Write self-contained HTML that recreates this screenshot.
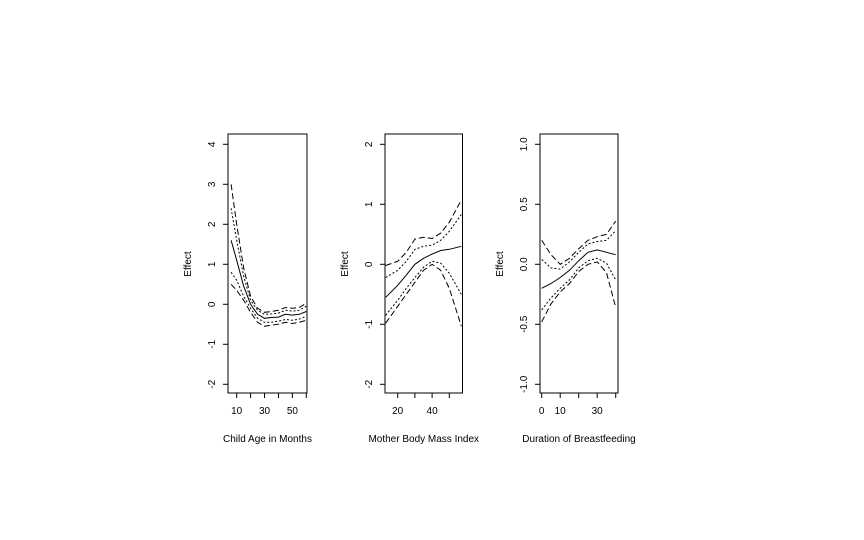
<!DOCTYPE html>
<html><head><meta charset="utf-8"><style>
body{margin:0;background:#fff}
svg{display:block;font-family:"Liberation Sans",Arial,sans-serif;font-size:10px}
</style></head><body>
<svg id="c" width="864" height="540" viewBox="0 0 864 540"></svg>
<script>
// Panel 1: Child Age in Months
const ageX=[6,10,15,20,25,30,35,40,45,50,55,60];
const ageMean=[1.6,1.1,0.45,0.0,-0.25,-0.35,-0.33,-0.32,-0.25,-0.27,-0.25,-0.18];
const ageUpDash=[3.0,2.0,0.9,0.2,-0.1,-0.2,-0.18,-0.15,-0.08,-0.1,-0.08,0.03];
const ageUpDot=[2.4,1.6,0.7,0.1,-0.15,-0.25,-0.24,-0.22,-0.15,-0.17,-0.15,-0.05];
const ageLoDot=[0.8,0.6,0.2,-0.1,-0.35,-0.45,-0.45,-0.42,-0.38,-0.4,-0.37,-0.3];
const ageLoDash=[0.5,0.35,0.1,-0.2,-0.45,-0.55,-0.52,-0.5,-0.45,-0.48,-0.45,-0.4];
const ageXTicks=[10,20,30,40,50,60];
const ageXLabels=["10","","30","","50",""];
const ageYTicks=[-2,-1,0,1,2,3,4];
// Panel 2: Mother BMI
const bmiX=[13,20,25,30,35,40,45,50,57];
const bmiMean=[-0.55,-0.35,-0.18,0.0,0.1,0.17,0.23,0.25,0.3];
const bmiUpDash=[-0.02,0.05,0.2,0.42,0.45,0.43,0.52,0.7,1.07];
const bmiUpDot=[-0.22,-0.1,0.05,0.25,0.3,0.32,0.4,0.55,0.83];
const bmiLoDot=[-0.85,-0.6,-0.4,-0.22,-0.05,0.05,0.02,-0.15,-0.5];
const bmiLoDash=[-0.98,-0.7,-0.5,-0.3,-0.1,0.0,-0.1,-0.4,-1.03];
const bmiXTicks=[20,30,40,50];
const bmiXLabels=["20","","40",""];
const bmiYTicks=[-2,-1,0,1,2];
// Panel 3: Duration of Breastfeeding
const bfX=[0,5,10,15,20,25,30,35,40];
const bfMean=[-0.2,-0.16,-0.11,-0.05,0.03,0.1,0.12,0.1,0.08];
const bfUpDash=[0.2,0.08,0.0,0.05,0.13,0.2,0.23,0.25,0.36];
const bfUpDot=[0.04,-0.03,-0.04,0.02,0.1,0.17,0.19,0.2,0.28];
const bfLoDot=[-0.38,-0.28,-0.2,-0.13,-0.03,0.03,0.05,0.01,-0.13];
const bfLoDash=[-0.48,-0.33,-0.23,-0.16,-0.06,0.0,0.02,-0.07,-0.36];
const bfXTicks=[0,10,20,30,40];
const bfXLabels=["0","10","","30",""];
const bfYTicks=[-1.0,-0.5,0.0,0.5,1.0];
const bfYLabels=["-1.0","-0.5","0.0","0.5","1.0"];

const svg=document.getElementById('c');
const NS='http://www.w3.org/2000/svg';
function mk(tag,attrs,parent){const e=document.createElementNS(NS,tag);for(const k in attrs)e.setAttribute(k,attrs[k]);(parent||svg).appendChild(e);return e;}

function panel(p){
  const g=mk('g',{});
  
  
  const sx=v=>p.px0+(v-p.xa)*(p.px1-p.px0)/(p.xb-p.xa);
  const sy=v=>p.py0+(v-p.ya)*(p.py1-p.py0)/(p.yb-p.ya);
  const box=mk('rect',{x:p.bx0,y:134,width:p.bx1-p.bx0,height:259,fill:'none',stroke:'#000','stroke-width':1},g);
  
  
  // y axis
  const ya=mk('g',{},g);
  
  
  mk('line',{x1:p.bx0,x2:p.bx0,y1:sy(p.yTicks[0]),y2:sy(p.yTicks[p.yTicks.length-1]),stroke:'#000'},ya);
  p.yTicks.forEach((t,i)=>{
    const y=sy(t);
    mk('line',{x1:p.bx0-5,x2:p.bx0,y1:y,y2:y,stroke:'#000'},ya);
    const tx=mk('text',{x:0,y:0,transform:`translate(${p.bx0-13},${y}) rotate(-90)`,'text-anchor':'middle'},ya);
    tx.textContent=p.yLabels?p.yLabels[i]:String(t);
    
    
  });
  // x axis
  const xa=mk('g',{},g);
  
  
  mk('line',{x1:sx(p.xTicks[0]),x2:sx(p.xTicks[p.xTicks.length-1]),y1:393,y2:393,stroke:'#000'},xa);
  p.xTicks.forEach((t,i)=>{
    const x=sx(t);
    mk('line',{x1:x,x2:x,y1:393,y2:398,stroke:'#000'},xa);
    if(p.xLabels[i]){
      const tx=mk('text',{x:x,y:414,'text-anchor':'middle'},xa);
      tx.textContent=p.xLabels[i];
      
      
    }
  });
  const yt=mk('text',{x:0,y:0,transform:`translate(${p.bx0-37},264) rotate(-90)`,'text-anchor':'middle'},g);
  yt.textContent='Effect';
  
  
  const xt=mk('text',{x:(p.bx0+p.bx1)/2,y:442,'text-anchor':'middle'},g);
  xt.textContent=p.xTitle;
  
  
  const series=[[p.mean,'','mean-line'],[p.upDash,'6,3','upper-dashed-band'],[p.upDot,'2,2','upper-dotted-band'],[p.loDot,'2,2','lower-dotted-band'],[p.loDash,'6,3','lower-dashed-band']];
  series.forEach(([vals,dash,nm])=>{
    const d=vals.map((v,i)=>(i?'L':'M')+sx(p.x[i]).toFixed(1)+','+sy(v).toFixed(1)).join('');
    const path=mk('path',{d:d,fill:'none',stroke:'#000','stroke-width':1,'stroke-dasharray':dash||'none'},g);
    
    
  });
}
panel({name:'panel-child-age',bx0:228,bx1:307,px0:236.7,px1:306.3,xa:10,xb:60,py0:304.3,py1:144.3,ya:0,yb:4,
  x:ageX,mean:ageMean,upDash:ageUpDash,upDot:ageUpDot,loDot:ageLoDot,loDash:ageLoDash,
  xTicks:ageXTicks,xLabels:ageXLabels,yTicks:ageYTicks,xTitle:'Child Age in Months'});
panel({name:'panel-mother-bmi',bx0:385,bx1:462.5,px0:397.7,px1:449.3,xa:20,xb:50,py0:264.3,py1:144.3,ya:0,yb:2,
  x:bmiX,mean:bmiMean,upDash:bmiUpDash,upDot:bmiUpDot,loDot:bmiLoDot,loDash:bmiLoDash,
  xTicks:bmiXTicks,xLabels:bmiXLabels,yTicks:bmiYTicks,xTitle:'Mother Body Mass Index'});
panel({name:'panel-breastfeeding',bx0:540,bx1:618,px0:541.7,px1:615.7,xa:0,xb:40,py0:264.3,py1:144.3,ya:0,yb:1,
  x:bfX,mean:bfMean,upDash:bfUpDash,upDot:bfUpDot,loDot:bfLoDot,loDash:bfLoDash,
  xTicks:bfXTicks,xLabels:bfXLabels,yTicks:bfYTicks,yLabels:bfYLabels,xTitle:'Duration of Breastfeeding'});
</script>
</body></html>
